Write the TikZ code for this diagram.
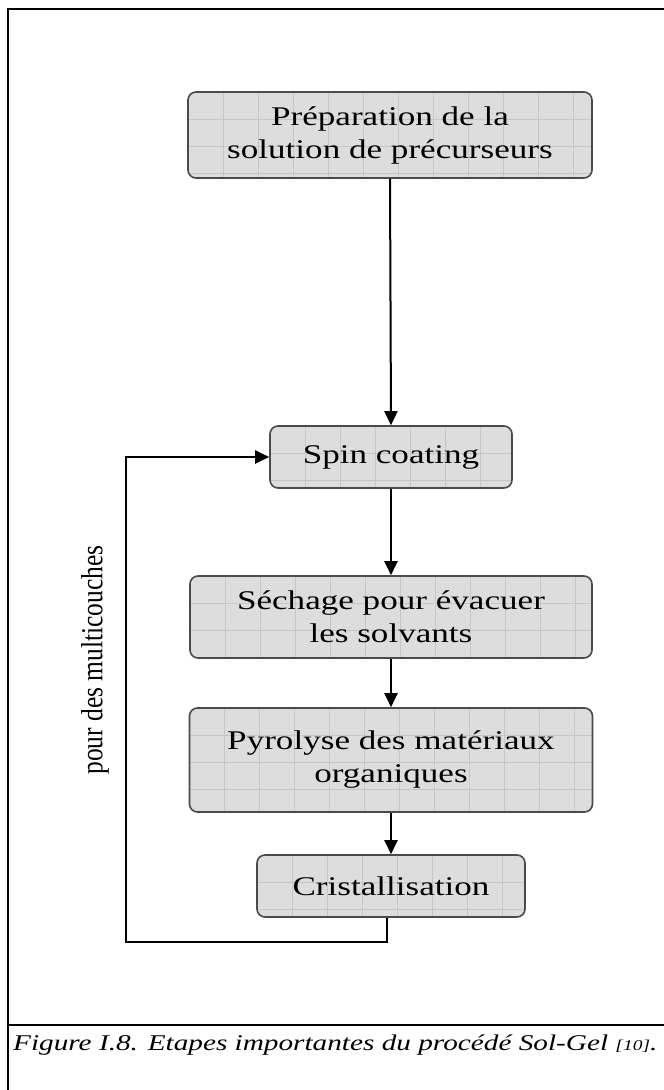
\documentclass[tikz,border=0pt]{standalone}
\usepackage{fontspec}
\usepackage{graphicx}
\setmainfont{Liberation Serif}[FakeStretch=1.3]
\newfontfamily\labelfont{Liberation Serif}
\usetikzlibrary{arrows.meta, positioning, calc}

\definecolor{boxfill}{HTML}{DDDDDD}
\definecolor{boxgrid}{HTML}{C6C6C6}
\definecolor{boxline}{HTML}{4A4A4A}

\tikzset{
    gridline/.style={boxgrid, line width=0.6pt},
    etape/.style={draw=boxline, line width=1.6pt, rounded corners=8pt, fill=boxfill,
        align=center, inner sep=0pt, font=\fontsize{27}{33}\selectfont,
        path picture={
            \foreach \k in {1,...,11}
                \draw[gridline] ([xshift=\k*35pt]path picture bounding box.north west)
                    -- ([xshift=\k*35pt]path picture bounding box.south west);
            \foreach \k in {1,...,3}
                \draw[gridline] ([yshift=-\k*27pt]path picture bounding box.north west)
                    -- ([yshift=-\k*27pt]path picture bounding box.north east);
        }},
    fleche/.style={line width=2pt, -{Triangle[length=14pt,width=13pt]}}
}

\begin{document}
\begin{tikzpicture}[x=1pt, y=-1pt]
    \useasboundingbox (0,0) rectangle (664,1090);

    % cadre et légende
    \draw[line width=2.5pt] (8,1090) -- (8,9) -- (664,9);
    \draw[line width=2.5pt] (8,1025) -- (664,1025);
    \node[anchor=base west, inner sep=0pt] (legende) at (13,1050)
        {\fontsize{22.5}{22.5}\selectfont\itshape Figure I.8. Etapes importantes du proc\'ed\'e Sol-Gel {\fontsize{15}{15}\selectfont[10]}.};

    % les étapes
    \node[etape, minimum width=404pt, minimum height=86pt] (prep) at (390,135)
        {Pr\'eparation de la\\solution de pr\'ecurseurs};
    \node[etape, minimum width=242pt, minimum height=62pt] (spin) at (391,457)
        {Spin coating};
    \node[etape, minimum width=402pt, minimum height=82pt] (sechage) at (391,617)
        {S\'echage pour \'evacuer\\les solvants};
    \node[etape, minimum width=403pt, minimum height=104pt] (pyro) at (391,760)
        {Pyrolyse des mat\'eriaux\\organiques};
    \node[etape, minimum width=268pt, minimum height=62pt] (crist) at (391,886)
        {Cristallisation};

    % liaisons
    \draw[fleche] (prep.south) -- (spin.north);
    \draw[fleche] (spin.south) -- (sechage.north);
    \draw[fleche] (sechage.south) -- (pyro.north);
    \draw[fleche] (pyro.south) -- (crist.north);

    % boucle pour les multicouches
    \coordinate (coin) at (126,942);
    \draw[fleche] ([xshift=-4pt]crist.south) |- (coin) |- (spin.west);
    \node[rotate=90, inner sep=0pt] (boucle) at (95,660)
        {\labelfont\fontsize{25.5}{25.5}\selectfont\scalebox{1}[1.2]{pour des multicouches}};
\end{tikzpicture}
\end{document}
